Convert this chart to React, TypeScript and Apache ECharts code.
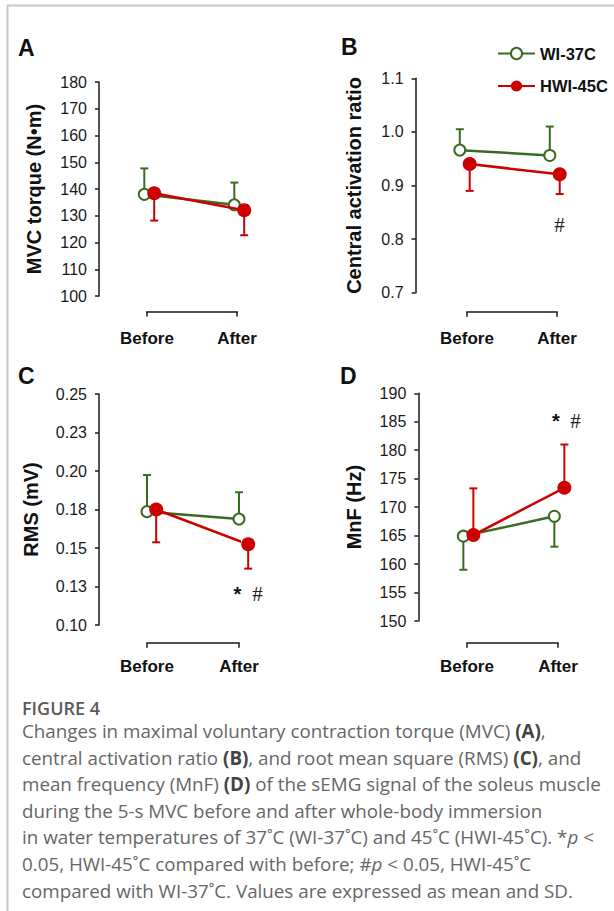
import React, { useEffect, useRef } from "react";
import * as echarts from "echarts";

// ---------- data ----------
const categories = ["Before", "After"];
const seriesNames = ["WI-37C", "HWI-45C"];

// A: MVC torque (N·m)
const mvcWI = [138.0, 134.1];
const mvcWISD = [9.7, 8.3];
const mvcHWI = [138.4, 132.1];
const mvcHWISD = [10.2, 9.4];
const mvcTicks = ["100", "110", "120", "130", "140", "150", "160", "170", "180"];

// B: central activation ratio
const carWI = [0.966, 0.956];
const carWISD = [0.039, 0.054];
const carHWI = [0.94, 0.921];
const carHWISD = [0.05, 0.037];
const carTicks = ["0.7", "0.8", "0.9", "1.0", "1.1"];

// C: RMS (mV)
const rmsWI = [0.1736, 0.1688];
const rmsWISD = [0.0238, 0.0174];
const rmsHWI = [0.175, 0.1524];
const rmsHWISD = [0.0213, 0.0158];
const rmsTicks = ["0.10", "0.13", "0.15", "0.18", "0.20", "0.23", "0.25"];

// D: MnF (Hz)
const mnfWI = [164.9, 168.4];
const mnfWISD = [5.9, 5.35];
const mnfHWI = [165.1, 173.4];
const mnfHWISD = [8.2, 7.6];
const mnfTicks = ["150", "155", "160", "165", "170", "175", "180", "185", "190"];

const captionLines = [
  "Changes in maximal voluntary contraction torque (MVC) {b|(A)},",
  "central activation ratio {b|(B)}, and root mean square (RMS) {b|(C)}, and",
  "mean frequency (MnF) {b|(D)} of the sEMG signal of the soleus muscle",
  "during the 5-s MVC before and after whole-body immersion",
  "in water temperatures of 37˚C (WI-37˚C) and 45˚C (HWI-45˚C). *{i|p} <",
  "0.05, HWI-45˚C compared with before; #{i|p} < 0.05, HWI-45˚C",
  "compared with WI-37˚C. Values are expressed as mean and SD.",
];

// ---------- styling ----------
const GREEN = "#3a6b22";
const RED = "#cc0000";
const AXIS = "#1a1a1a";
const FONT = "'Liberation Sans', Arial, sans-serif";

const panels = [
  {
    letter: "A", title: "MVC torque (N•m)",
    wi: mvcWI, wiSD: mvcWISD, hwi: mvcHWI, hwiSD: mvcHWISD,
    ticks: mvcTicks, min: 100, max: 180, interval: 10, dirWI: 1, dirHWI: -1,
    L: { left: 147, width: 90, top: 82, height: 214, yOff: 48, xOff: 15.5, gap: 55, dWI: -0.03, dHWI: 0.08, lx: 18, ly: 50, lm: 18 },
  },
  {
    letter: "B", title: "Central activation ratio",
    wi: carWI, wiSD: carWISD, hwi: carHWI, hwiSD: carHWISD,
    ticks: carTicks, min: 0.7, max: 1.1, interval: 0.1, dirWI: 1, dirHWI: -1,
    L: { left: 467, width: 90, top: 78.3, height: 214.4, yOff: 51.4, xOff: 19, gap: 52, dWI: -0.08, dHWI: 0.03, lx: 341, ly: 49, lm: 18 },
  },
  {
    letter: "C", title: "RMS (mV)",
    wi: rmsWI, wiSD: rmsWISD, hwi: rmsHWI, hwiSD: rmsHWISD,
    ticks: rmsTicks, min: 0.1, max: 0.25, interval: 0.025, dirWI: 1, dirHWI: -1,
    L: { left: 147, width: 92, top: 394, height: 231, yOff: 48, xOff: 17.7, gap: 58, dWI: 0, dHWI: 0.1, lx: 18, ly: 378, lm: 15 },
  },
  {
    letter: "D", title: "MnF (Hz)",
    wi: mnfWI, wiSD: mnfWISD, hwi: mnfHWI, hwiSD: mnfHWISD,
    ticks: mnfTicks, min: 150, max: 190, interval: 5, dirWI: -1, dirHWI: 1,
    L: { left: 467, width: 91, top: 393.3, height: 227.7, yOff: 48.7, xOff: 21.7, gap: 54, dWI: -0.04, dHWI: 0.07, lx: 340, ly: 378, lm: 15 },
  },
];

function errRender(color: string) {
  return (params: any, api: any) => {
    const x = api.value(0);
    const m = api.value(1);
    const e = api.value(2);
    const p0 = api.coord([x, m]);
    const p1 = api.coord([x, e]);
    return {
      type: "group",
      children: [
        { type: "line", shape: { x1: p0[0], y1: p0[1], x2: p1[0], y2: p1[1] }, style: { stroke: color, lineWidth: 2 } },
        { type: "line", shape: { x1: p1[0] - 4, y1: p1[1], x2: p1[0] + 4, y2: p1[1] }, style: { stroke: color, lineWidth: 2 } },
      ],
    };
  };
}

export default function App() {
  const ref = useRef<HTMLDivElement>(null);

  useEffect(() => {
    document.body.style.margin = "0";
    if (!ref.current) return;
    const chart = echarts.init(ref.current, undefined, { renderer: "svg" });

    const grid: any[] = [];
    const xAxis: any[] = [];
    const yAxis: any[] = [];
    const series: any[] = [];
    const graphic: any[] = [];

    panels.forEach((p, i) => {
      const L = p.L;
      grid.push({ left: L.left, top: L.top, width: L.width, height: L.height, containLabel: false });
      xAxis.push({
        gridIndex: i, type: "value", min: 0, max: 1, interval: 1, offset: L.xOff,
        axisLine: { show: true, onZero: false, lineStyle: { color: AXIS, width: 1.5 } },
        axisTick: { show: true, length: 5, lineStyle: { color: AXIS, width: 1.5 } },
        splitLine: { show: false },
        axisLabel: {
          margin: L.lm, color: "#111", fontFamily: FONT, fontWeight: "bold", fontSize: 17,
          formatter: (v: number) => categories[Math.round(v)],
        },
      });
      yAxis.push({
        gridIndex: i, type: "value", min: p.min, max: p.max, interval: p.interval, offset: L.yOff,
        name: p.title, nameLocation: "middle", nameRotate: 90, nameGap: L.gap,
        nameTextStyle: { fontFamily: FONT, fontWeight: "bold", fontSize: 20, color: "#111" },
        axisLine: { show: true, onZero: false, lineStyle: { color: AXIS, width: 1.5 } },
        axisTick: { show: true, length: 4, lineStyle: { color: AXIS, width: 1.5 } },
        splitLine: { show: false },
        axisLabel: {
          margin: 12, color: "#1a1a1a", fontFamily: FONT, fontSize: 16,
          formatter: (v: number) => p.ticks[Math.round((v - p.min) / p.interval)],
        },
      });

      const groups = [
        { name: seriesNames[0], vals: p.wi, sd: p.wiSD, dir: p.dirWI, d: L.dWI, color: GREEN, filled: false, z: 2 },
        { name: seriesNames[1], vals: p.hwi, sd: p.hwiSD, dir: p.dirHWI, d: L.dHWI, color: RED, filled: true, z: 4 },
      ];
      groups.forEach((g) => {
        series.push({
          type: "custom", name: g.name + " SD", xAxisIndex: i, yAxisIndex: i, clip: false, z: g.z,
          renderItem: errRender(g.color),
          encode: { x: 0, y: [1, 2] },
          data: g.vals.map((v, k) => [k + g.d, v, v + g.dir * g.sd[k]]),
          silent: true,
        });
        series.push({
          type: "line", name: g.name, xAxisIndex: i, yAxisIndex: i, clip: false, z: g.z + 1,
          data: g.vals.map((v, k) => [k + g.d, v]),
          symbol: "circle", symbolSize: g.filled ? 14 : 11,
          lineStyle: { color: g.color, width: 2.5 },
          itemStyle: g.filled
            ? { color: g.color, borderColor: g.color, borderWidth: 0 }
            : { color: "#fff", borderColor: g.color, borderWidth: 2 },
          silent: true,
        });
      });

      graphic.push({
        type: "text", left: L.lx, top: L.ly - 14,
        style: { text: p.letter, font: `bold 23px ${FONT}`, fill: "#111" },
      });
    });

    // significance marks
    const sigSerif = "'Liberation Serif', 'Times New Roman', serif";
    graphic.push(
      { type: "text", x: 559.5, y: 224.5, style: { text: "#", font: `21px ${sigSerif}`, fill: "#222", align: "center", verticalAlign: "middle" } },
      { type: "text", x: 237.5, y: 594, style: { text: "*", font: `bold 20px ${FONT}`, fill: "#111", align: "center", verticalAlign: "middle" } },
      { type: "text", x: 257.5, y: 593.5, style: { text: "#", font: `21px ${sigSerif}`, fill: "#222", align: "center", verticalAlign: "middle" } },
      { type: "text", x: 556, y: 421, style: { text: "*", font: `bold 20px ${FONT}`, fill: "#111", align: "center", verticalAlign: "middle" } },
      { type: "text", x: 575.5, y: 420.5, style: { text: "#", font: `21px ${sigSerif}`, fill: "#222", align: "center", verticalAlign: "middle" } },
    );

    // frame lines
    graphic.push(
      { type: "line", shape: { x1: 7, y1: 5.5, x2: 614, y2: 5.5 }, style: { stroke: "#c8c8c8", lineWidth: 2 } },
      { type: "line", shape: { x1: 7.5, y1: 5, x2: 7.5, y2: 911 }, style: { stroke: "#c8c8c8", lineWidth: 2 } },
    );

    // caption
    const CAP = "'Open Sans', 'Noto Sans', sans-serif";
    graphic.push({
      type: "text", x: 22, y: 707.5,
      style: { text: "FIGURE 4", font: `600 18px ${CAP}`, fill: "#5a5a5a", verticalAlign: "middle" },
    });
    captionLines.forEach((line, k) => {
      graphic.push({
        type: "text", x: 22, y: 731 + k * 26.6,
        style: {
          text: line, font: `18.8px ${CAP}`, fill: "#666", verticalAlign: "middle",
          rich: {
            b: { font: `bold 18.8px ${CAP}`, fill: "#444" },
            i: { font: `italic 18.8px ${CAP}`, fill: "#666" },
          },
        },
      });
    });

    chart.setOption({
      animation: false,
      backgroundColor: "#fff",
      grid, xAxis, yAxis, series, graphic,
      legend: {
        data: seriesNames, orient: "vertical", left: 497, top: 45,
        itemWidth: 37, itemHeight: 14, itemGap: 15.5,
        textStyle: { fontFamily: FONT, fontWeight: "bold", fontSize: 16.5, color: "#111" },
        padding: [0, 0, 0, 0],
        selectedMode: false,
      },
    });

    return () => chart.dispose();
  }, []);

  return <div ref={ref} style={{ width: 614, height: 911 }} />;
}
